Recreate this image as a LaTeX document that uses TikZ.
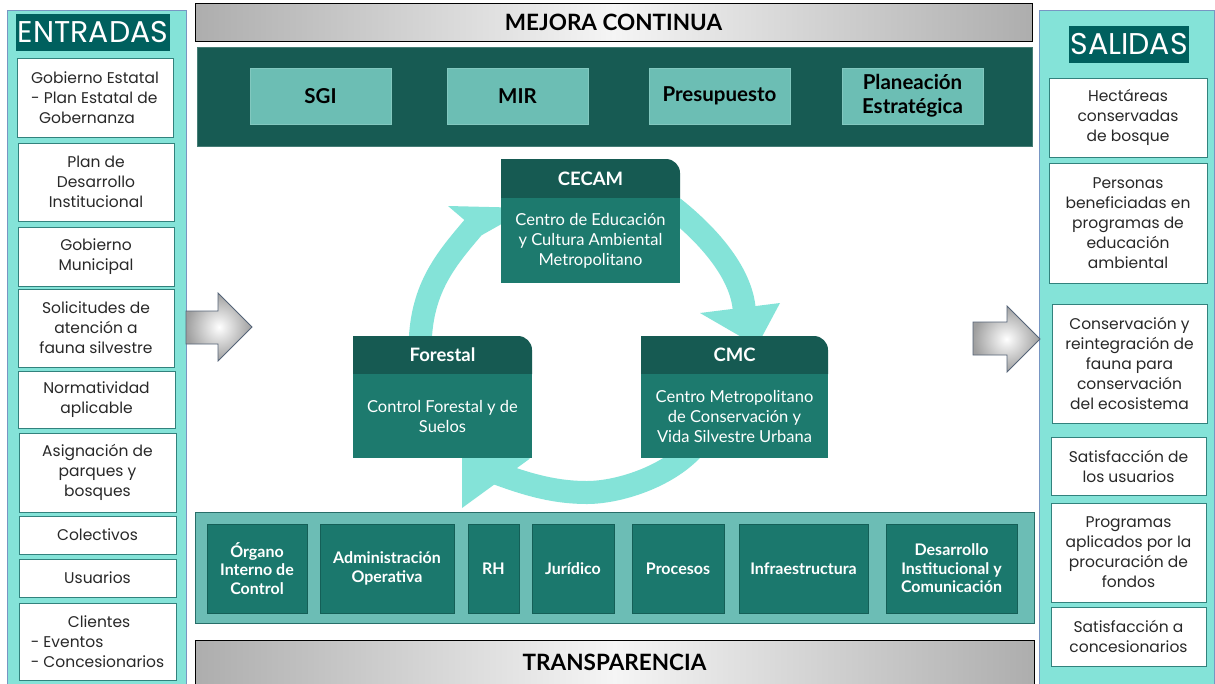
\documentclass[tikz,border=0pt]{standalone}
\usepackage{fontspec}
\setmainfont{Lato}
\newfontfamily\gothic{Poppins}
\newfontfamily\lato{Lato}
\definecolor{panelc}{RGB}{132,227,216}
\definecolor{panelbd}{RGB}{120,150,195}
\definecolor{titlec}{RGB}{0,96,94}
\definecolor{boxbd}{RGB}{50,130,125}
\definecolor{darkp}{RGB}{23,91,83}
\definecolor{tboxc}{RGB}{108,190,180}
\definecolor{hdrc}{RGB}{22,90,82}
\definecolor{bodyc}{RGB}{29,122,110}
\definecolor{bpanc}{RGB}{108,189,181}
\definecolor{bpanbd}{RGB}{40,110,105}
\definecolor{oboxc}{RGB}{27,120,109}
\definecolor{oboxbd}{RGB}{20,95,87}
\definecolor{ringc}{RGB}{132,227,216}
\definecolor{arrowbd}{RGB}{85,100,120}
\definecolor{txtc}{RGB}{40,40,40}
\begin{document}
\begin{tikzpicture}[x=1pt,y=-1pt,
  panel/.style={draw=panelbd, line width=0.8pt, fill=panelc, inner sep=0pt},
  titlebox/.style={fill=titlec, text=white, inner sep=0pt, font=\gothic\fontsize{30}{32}\selectfont},
  lbox/.style={draw=boxbd, line width=0.8pt, fill=white, inner sep=0pt, align=center, text=txtc, font=\gothic\fontsize{15.5}{20}\selectfont},
  gbar/.style={draw=black, line width=0.8pt, left color=black!32, right color=black!32, middle color=black!4, inner sep=0pt, font=\lato\bfseries\fontsize{22.5}{24}\selectfont},
  dpanel/.style={fill=darkp, draw=darkp!80!white, line width=0.6pt, inner sep=0pt},
  tbox/.style={fill=tboxc, draw=tboxc!85!white, line width=0.6pt, inner sep=0pt, minimum width=141pt, minimum height=56pt, align=center, text=black, font=\lato\bfseries\fontsize{20.5}{24}\selectfont},
  bpanel/.style={fill=bpanc, draw=bpanbd, line width=0.8pt, inner sep=0pt},
  obox/.style={fill=oboxc, draw=oboxbd, line width=0.6pt, inner sep=0pt, minimum height=89pt, align=center, text=white, font=\lato\bfseries\fontsize{16}{18.5}\selectfont},
  hdrtext/.style={text=white, inner sep=0pt, font=\lato\bfseries\fontsize{18.5}{20}\selectfont},
  cbody/.style={fill=bodyc, inner sep=0pt, align=center, text=white, font=\lato\fontsize{16.5}{20}\selectfont},
  ring/.style={draw=ringc, line width=23pt, line cap=butt},
  garrow/.style={draw=arrowbd, line width=0.8pt, inner color=white, outer color=black!38}
]
\useasboundingbox (0,0) rectangle (1215,683);
\clip (0,0) rectangle (1215,683);
\fill[white] (0,0) rectangle (1215,683);

% ---------- side panels ----------
\node[panel, anchor=north west, minimum width=179pt, minimum height=690pt] (lp) at (7,10) {};
\node[panel, anchor=north west, minimum width=175pt, minimum height=690pt] (rp) at (1039,10) {};

\node[titlebox, minimum width=154pt, minimum height=37pt] (tin) at (93,32.5) {ENTRADAS};
\node[titlebox, minimum width=120pt, minimum height=37pt] (tout) at (1129,44.5) {SALIDAS};

% entradas
\node[lbox, minimum width=156pt, minimum height=79pt, align=left] (e1) at (95,97.5) {Gobierno Estatal\\- Plan Estatal de\\\hspace*{8pt}Gobernanza};
\node[lbox, minimum width=156pt, minimum height=78pt] (e2) at (96,182) {Plan de\\Desarrollo\\Institucional};
\node[lbox, minimum width=156pt, minimum height=59pt] (e3) at (96,256.5) {Gobierno\\Municipal};
\node[lbox, minimum width=156pt, minimum height=78pt] (e4) at (96,328) {Solicitudes de\\atención a\\fauna silvestre};
\node[lbox, minimum width=157pt, minimum height=57pt] (e5) at (96.5,399.5) {Normatividad\\aplicable};
\node[lbox, minimum width=157pt, minimum height=79pt] (e6) at (97.5,472.5) {Asignación de\\parques y\\bosques};
\node[lbox, minimum width=157pt, minimum height=38pt] (e7) at (97.5,535) {Colectivos};
\node[lbox, minimum width=157pt, minimum height=38pt] (e8) at (97.5,578) {Usuarios};
\node[lbox, minimum width=157pt, minimum height=77pt, align=left] (e9) at (97.5,641.5) {\hspace*{37pt}Clientes\\- Eventos\\- Concesionarios};

% salidas
\node[lbox, minimum width=158pt, minimum height=79pt] (s1) at (1128,117.5) {Hectáreas\\conservadas\\de bosque};
\node[lbox, minimum width=158pt, minimum height=120pt] (s2) at (1128,223) {Personas\\beneficiadas en\\programas de\\educación\\ambiental};
\node[lbox, minimum width=155pt, minimum height=119pt] (s3) at (1129.5,363.5) {Conservación y\\reintegración de\\fauna para\\conservación\\del ecosistema};
\node[lbox, minimum width=155pt, minimum height=58pt] (s4) at (1128.5,466) {Satisfacción de\\los usuarios};
\node[lbox, minimum width=155pt, minimum height=99pt] (s5) at (1128.5,552.5) {Programas\\aplicados por la\\procuración de\\fondos};
\node[lbox, minimum width=155pt, minimum height=59pt] (s6) at (1128.5,636.5) {Satisfacción a\\concesionarios};

% ---------- gray block arrows ----------
\shadedraw[garrow] (186,311) -- (218,311) -- (218,293) -- (252,327) -- (218,361) -- (218,344) -- (186,344) -- cycle;
\shadedraw[garrow] (973,322) -- (1007,322) -- (1007,306) -- (1040,339) -- (1007,372) -- (1007,355) -- (973,355) -- cycle;

% ---------- top ----------
\node[gbar, minimum width=837pt, minimum height=38pt] (mc) at (613.5,22) {MEJORA CONTINUA};
\node[dpanel, minimum width=835pt, minimum height=99pt] (tp) at (614.5,96.5) {};
\node[tbox] (sgi) at (320.5,96) {SGI};
\node[tbox] (mir) at (517.5,96) {MIR};
\node[tbox] (pre) at (719.5,96) {Presupuesto};
\node[tbox] (pla) at (912.5,96) {Planeación\\Estratégica};

% ---------- cycle ring ----------
\draw[ring] (420,350) .. controls (420,290) and (444.5,261) .. (473.5,227) -- (477.4,222.4);
\fill[ringc] (448,206) -- (482,235) -- (530,208) -- cycle;
\draw[ring] (670,205) .. controls (701.6,229.4) and (739.2,267.4) .. (744,307) -- (745.2,317);
\fill[ringc] (700,313) -- (780,303) -- (757,346) -- cycle;
\draw[ring] (700,440) .. controls (675,475) and (620,492.5) .. (587,492.5) .. controls (550,492.5) and (520,482) .. (488,470);
\fill[ringc] (462,508) -- (530,458.5) -- (462,445) -- cycle;

% ---------- cycle boxes ----------
% CECAM
\fill[hdrc] (501,198) -- (501,159) -- (666,159) .. controls (673.7,159) and (680,165.3) .. (680,173) -- (680,198) -- cycle;
\node[cbody, minimum width=179pt, minimum height=85pt] (cecam) at (590.5,240.5) {Centro de Educación\\y Cultura Ambiental\\Metropolitano};
\node[hdrtext] (cecamh) at (590.5,178.5) {CECAM};
% Forestal
\fill[hdrc] (353,374) -- (353,336) -- (518,336) .. controls (525.7,336) and (532,342.3) .. (532,350) -- (532,374) -- cycle;
\node[cbody, minimum width=179pt, minimum height=84pt] (for) at (442.5,416) {Control Forestal y de\\Suelos};
\node[hdrtext] (forh) at (442.5,355) {Forestal};
% CMC
\fill[hdrc] (641,374) -- (641,336) -- (814,336) .. controls (821.7,336) and (828,342.3) .. (828,350) -- (828,374) -- cycle;
\node[cbody, minimum width=187pt, minimum height=84pt] (cmc) at (734.5,416) {Centro Metropolitano\\de Conservación y\\Vida Silvestre Urbana};
\node[hdrtext] (cmch) at (734.5,355) {CMC};

% ---------- bottom ----------
\node[bpanel, minimum width=839pt, minimum height=111pt] (bp) at (614.5,567.5) {};
\node[obox, minimum width=100pt] (o1) at (257,568.5) {Órgano\\Interno de\\Control};
\node[obox, minimum width=134pt] (o2) at (387,568.5) {Administración\\Operativa};
\node[obox, minimum width=51pt] (o3) at (493.5,568.5) {RH};
\node[obox, minimum width=82pt] (o4) at (573,568.5) {Jurídico};
\node[obox, minimum width=92pt] (o5) at (678,568.5) {Procesos};
\node[obox, minimum width=129pt] (o6) at (803.5,568.5) {Infraestructura};
\node[obox, minimum width=131pt] (o7) at (951.5,568.5) {Desarrollo\\Institucional y\\Comunicación};

\node[gbar, minimum width=839pt, minimum height=44pt] (tr) at (614.5,662) {TRANSPARENCIA};
\end{tikzpicture}
\end{document}
